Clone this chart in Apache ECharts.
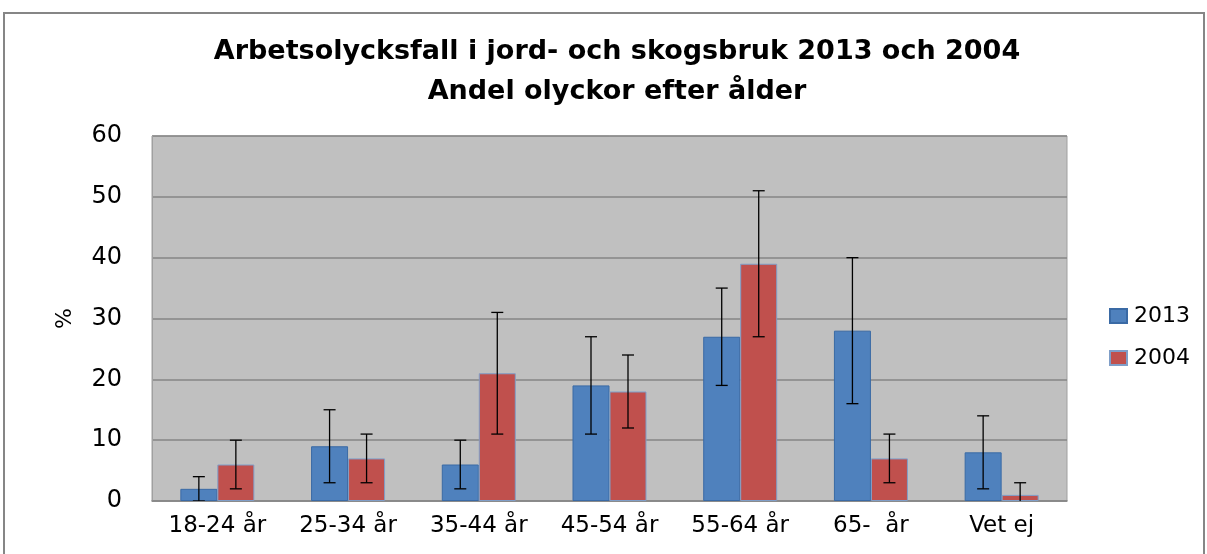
<!DOCTYPE html>
<html>
<head>
<meta charset="utf-8">
<script src="https://cdn.jsdelivr.net/npm/echarts@6/dist/echarts.min.js"></script>
<style>
  html, body { margin: 0; padding: 0; background: #fff; }
  #graph { width: 1207px; height: 554px; }
</style>
</head>
<body>
<div id="graph"></div>
<script>
// kategorier och värden (%)
const categories = ['18-24 år', '25-34 år', '35-44 år', '45-54 år', '55-64 år', '65-  år', 'Vet ej'];
const data2013 = [2, 9, 6, 19, 27, 28, 8];
const low2013 = [0, 3, 2, 11, 19, 16, 2];
const high2013 = [4, 15, 10, 27, 35, 40, 14];
const data2004 = [6, 7, 21, 18, 39, 7, 1];
const low2004 = [2, 3, 11, 12, 27, 3, -1];
const high2004 = [10, 11, 31, 24, 51, 11, 3];
const yTicks = [0, 10, 20, 30, 40, 50, 60];

const BAR_W = 37;

function errData(low, high) {
  return categories.map((c, i) => [i, low[i], high[i]]);
}

function errRender(offset) {
  return function (params, api) {
    const i = api.value(0);
    const lo = api.coord([i, api.value(1)]);
    const hi = api.coord([i, api.value(2)]);
    const x = lo[0] + offset;
    const cap = 6;
    const st = { stroke: '#000', lineWidth: 1.3 };
    return {
      type: 'group',
      children: [
        { type: 'line', shape: { x1: x, y1: lo[1], x2: x, y2: hi[1] }, style: st },
        { type: 'line', shape: { x1: x - cap, y1: hi[1], x2: x + cap, y2: hi[1] }, style: st },
        { type: 'line', shape: { x1: x - cap, y1: lo[1], x2: x + cap, y2: lo[1] }, style: st }
      ]
    };
  };
}

var myChart = echarts.init(document.getElementById('graph'));
myChart.setOption({
  backgroundColor: '#fff',
  animation: false,
  textStyle: { fontFamily: 'DejaVu Sans' },
  title: {
    text: 'Arbetsolycksfall i jord- och skogsbruk 2013 och 2004\nAndel olyckor efter ålder',
    left: 612,
    textAlign: 'center',
    top: 27,
    textStyle: {
      fontFamily: 'DejaVu Sans',
      fontSize: 27,
      fontWeight: 'bold',
      color: '#000',
      lineHeight: 40
    }
  },
  graphic: [
    {
      type: 'rect',
      shape: { x: 4, y: 13, width: 1200, height: 600 },
      style: { fill: 'none', stroke: '#868686', lineWidth: 2 },
      silent: true
    }
  ],
  legend: {
    data: ['2013', '2004'],
    orient: 'vertical',
    left: 1104,
    top: 300,
    itemWidth: 17,
    itemHeight: 14,
    itemGap: 20,
    icon: 'rect',
    textStyle: { fontSize: 22, color: '#000', fontFamily: 'DejaVu Sans', padding: [0, 0, 0, 2] }
  },
  grid: {
    left: 152,
    right: 140,
    top: 136,
    bottom: 53,
    show: true,
    backgroundColor: '#c0c0c0',
    borderColor: '#a0a0a0',
    borderWidth: 1
  },
  xAxis: {
    type: 'category',
    data: categories,
    axisTick: { show: false },
    axisLine: { lineStyle: { color: '#868686', width: 1.5 } },
    axisLabel: { fontSize: 23, color: '#000', margin: 14, fontFamily: 'DejaVu Sans' }
  },
  yAxis: {
    type: 'value',
    min: yTicks[0],
    max: yTicks[yTicks.length - 1],
    interval: 10,
    name: '%',
    nameLocation: 'middle',
    nameGap: 76,
    nameRotate: 90,
    nameTextStyle: { fontSize: 22, color: '#000' },
    axisLine: { show: true, lineStyle: { color: '#a0a0a0' } },
    axisTick: { show: false },
    axisLabel: { fontSize: 24, color: '#000', margin: 30 },
    splitLine: { lineStyle: { color: '#868686', width: 1.5 } }
  },
  series: [
    {
      name: '2013',
      type: 'bar',
      barWidth: BAR_W,
      barGap: '0%',
      data: data2013,
      itemStyle: { color: '#4f81bd', borderColor: '#3a6aa5', borderWidth: 1 }
    },
    {
      name: '2004',
      type: 'bar',
      barWidth: BAR_W,
      barGap: '0%',
      data: data2004,
      itemStyle: { color: '#c0504d', borderColor: '#7f9ec8', borderWidth: 1 }
    },
    {
      name: 'err2013',
      type: 'custom',
      renderItem: errRender(-BAR_W / 2),
      data: errData(low2013, high2013),
      encode: { x: 0, y: [1, 2] },
      clip: true,
      z: 10
    },
    {
      name: 'err2004',
      type: 'custom',
      renderItem: errRender(BAR_W / 2),
      data: errData(low2004, high2004),
      encode: { x: 0, y: [1, 2] },
      clip: true,
      z: 10
    }
  ]
});
</script>
</body>
</html>
